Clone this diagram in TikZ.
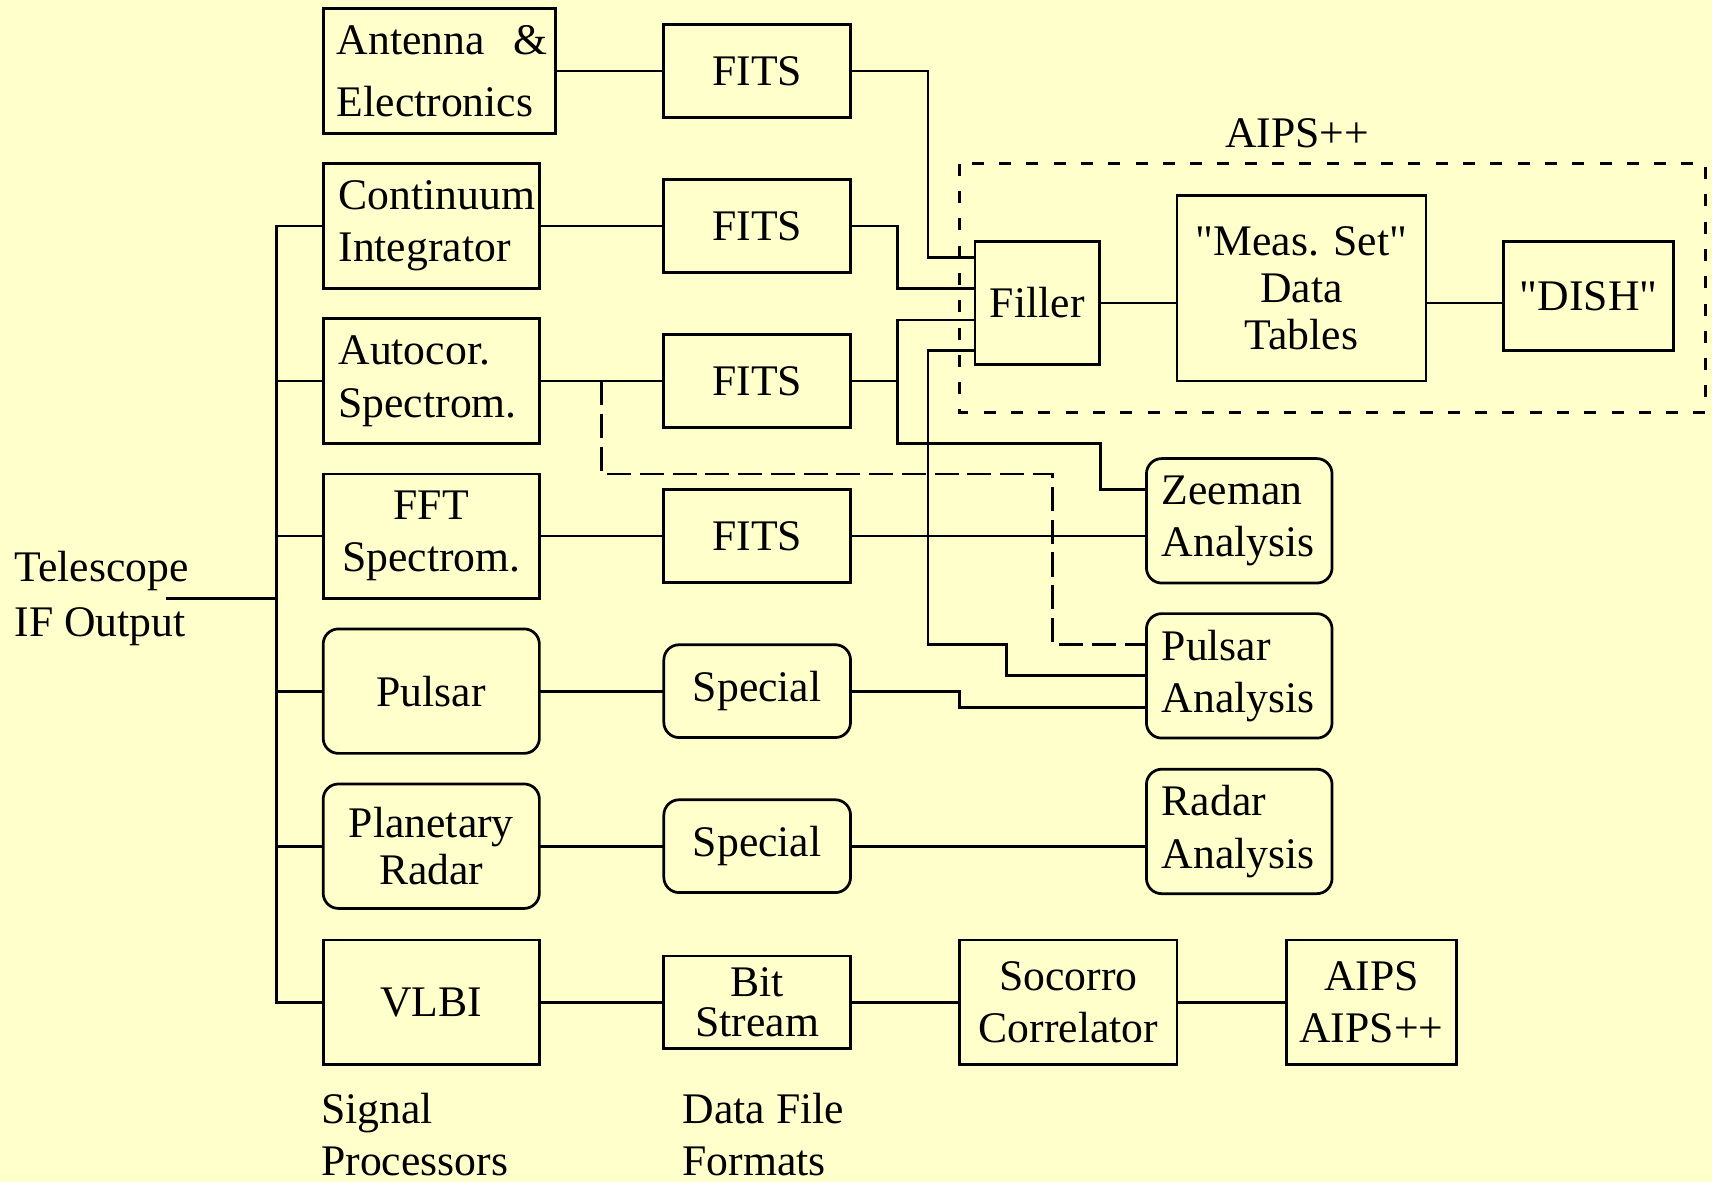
\documentclass[tikz,border=0pt]{standalone}
\usepackage{fontspec}
\setmainfont{Liberation Serif}
\usetikzlibrary{calc}
\definecolor{paper}{HTML}{FFFFCC}
\newcommand{\fsz}[1]{\fontsize{20}{#1}\selectfont}

\begin{document}
\begin{tikzpicture}[
  x=0.5pt,y=-0.5pt,
  line width=1.25pt,line cap=rect,
  blk/.style={draw,inner sep=0pt,font=\fsz{24pt},align=center},
  sigbox/.style={blk,minimum width=99pt,minimum height=57pt},
  leftbox/.style={blk,align=left,text width=85pt,inner xsep=7pt,minimum height=57pt},
  fitsbox/.style={blk,minimum width=85.5pt,minimum height=42.5pt},
  roundbox/.style={rounded corners=7pt},
  plaintext/.style={font=\fsz{24pt},align=left,inner sep=0pt,anchor=west},
  aipsline/.style={line cap=butt,dash pattern=on 5.5pt off 7pt},
  pulsline/.style={line cap=butt,dash pattern=on 11pt off 4pt}]
  \fill[paper] (0,0) rectangle (1568,1083);
  \useasboundingbox (0,0) rectangle (1568,1083);

% AIPS++ frame
  \draw[aipsline] (879,150) rectangle (1562,378);
  \node[plaintext,anchor=center] (aipslabel) at (1188,122) {AIPS++};

% Signal processors
  \node[leftbox,text width=94pt,inner xsep=6.25pt,font=\fsz{28.5pt}] (ant)
    at (402.5,65) {Antenna~~\&\\Electronics};
  \node[leftbox] (cont) at (395,207) {Continuum\\Integrator};
  \node[leftbox] (autocor) at (395,349) {Autocor.\\Spectrom.};
  \node[sigbox] (fft) at (395,491) {FFT\\Spectrom.};
  \node[sigbox,roundbox] (pulsar) at (395,633) {Pulsar};
  \node[sigbox,roundbox,font=\fsz{21.5pt}] (radar) at (395,775) {Planetary\\Radar};
  \node[sigbox] (vlbi) at (395,918) {VLBI};

% Data file formats
  \foreach \n/\y in {1/65,2/207,3/349,4/491}
    \node[fitsbox] (fits\n) at (693.5,\y) {FITS};
  \node[fitsbox,roundbox] (spec1) at (693.5,633) {Special};
  \node[fitsbox,roundbox] (spec2) at (693.5,775) {Special};
  \node[fitsbox,font=\fsz{18.5pt}] (bits) at (693.5,918) {Bit\\Stream};

% Processing
  \node[sigbox,minimum width=99.5pt] (soc) at (978.5,918) {Socorro\\Correlator};
  \node[sigbox,minimum width=78pt] (aips) at (1256,918) {AIPS\\AIPS++};
  \node[blk,minimum width=57pt,minimum height=56.5pt] (filler) at (950,277.5) {Filler};
  \node[blk,minimum width=114pt,minimum height=85pt,font=\fsz{21.5pt}] (meas)
    at (1192,264) {\textquotedbl Meas. Set\textquotedbl\\Data\\Tables};
  \node[blk,minimum width=78pt,minimum height=50pt] (dish) at (1455,271)
    {\textquotedbl DISH\textquotedbl};
  \node[leftbox,roundbox,text width=71pt] (zeeman) at (1135,477) {Zeeman\\Analysis};
  \node[leftbox,roundbox,text width=71pt] (psrana) at (1135,619) {Pulsar\\Analysis};
  \node[leftbox,roundbox,text width=71pt] (radana) at (1135,761.5) {Radar\\Analysis};

% Labels
  \node[plaintext,font=\fsz{25pt}] (tel) at (12,548) {Telescope\\IF Output};
  \node[plaintext,font=\fsz{23.5pt}] (sigproc) at (293,1039) {Signal\\Processors};
  \node[plaintext,font=\fsz{23.5pt}] (formats) at (624,1039) {Data File\\Formats};

% IF bus
  \coordinate (ifout) at (153,548);
  \coordinate (bus) at (253,548);
  \draw (ifout) -- (bus);
  \draw (bus |- cont.west) -- (bus |- vlbi.west);
  \foreach \n in {cont,autocor,fft,pulsar,radar,vlbi}
    \draw (bus |- \n.west) -- (\n.west);
  \foreach \a/\b in {ant/fits1,cont/fits2,autocor/fits3,fft/fits4,pulsar/spec1,
    radar/spec2,vlbi/bits,bits/soc,soc/aips}
    \draw (\a.east) -- (\b.west);

% Into the filler
  \draw (fits1.east) -| (850,236) -- (filler.west |- 0,236);
  \draw (fits2.east) -| (822,264) -- (filler.west |- 0,264);
  \draw (fits3.east) -- (fits3.east -| 822,0);
  \draw (filler.west |- 0,293) -| (822,406) -| (1008,448) -- (zeeman.west |- 0,448);
  \draw (filler.west |- 0,321) -| (850,590) -| (922,619) -- (psrana.west |- 0,619);
  \draw (filler.east) -- (filler.east -| meas.west);
  \draw (filler.east -| meas.east) -- (filler.east -| dish.west);

% Analysis
  \draw (fits4.east) -- (fits4.east -| zeeman.west);
  \draw[pulsline] ($(autocor.east)!0.5!(fits3.west)$) |- (964,434)
    |- (psrana.west |- 0,590);
  \draw (spec1.east) -| (879,648) -- (psrana.west |- 0,648);
  \draw (spec2.east) -- (spec2.east -| radana.west);
\end{tikzpicture}
\end{document}
